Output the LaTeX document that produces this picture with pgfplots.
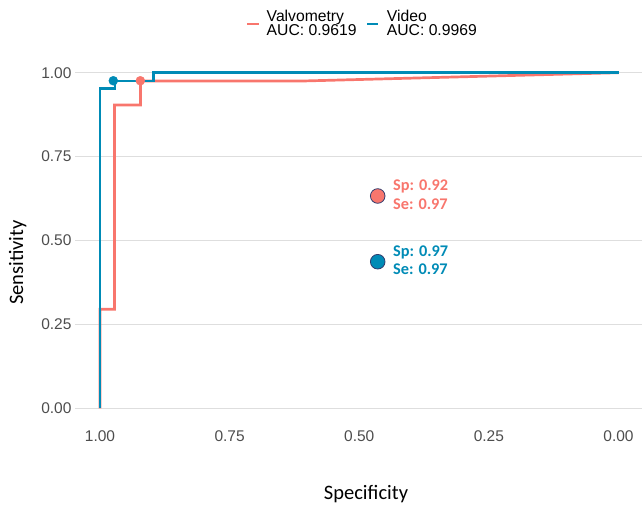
\documentclass[border=0pt]{standalone}
\usepackage{fontspec}
\setmainfont{Liberation Sans}
\newfontfamily\carlito{Carlito}
\usepackage{pgfplots}
\pgfplotsset{compat=1.18}
\definecolor{salmon}{RGB}{248,118,109}
\definecolor{vblue}{RGB}{0,139,182}
\definecolor{outl}{RGB}{50,60,110}
\definecolor{tickgray}{RGB}{77,77,77}
\definecolor{gridgray}{RGB}{222,222,222}
\begin{document}
\begin{tikzpicture}[x=1pt,y=1pt]
\useasboundingbox (0,0) rectangle (643,507);
\begin{axis}[
  at={(75pt,81.9pt)}, anchor=south west, scale only axis,
  width=567pt, height=369.2pt,
  x dir=reverse, xmin=-0.0453, xmax=1.0482, ymin=-0.05, ymax=1.05,
  axis line style={draw=none}, major tick style={draw=none},
  ymajorgrids, grid style={gridgray, line width=1pt},
  xtick={0,0.25,0.5,0.75,1}, ytick={0,0.25,0.5,0.75,1},
  ticklabel style={font=\fontsize{15.5}{17}\selectfont, text=tickgray},
  xticklabel style={yshift=-2pt},
  /pgf/number format/.cd, fixed, fixed zerofill, precision=2, assume math mode=true,
  /pgfplots/.cd,
  clip=false,
]
\addplot[salmon, line width=2.7pt, mark=none] coordinates {(1,0)(1,0.295)(0.972,0.295)(0.972,0.904)(0.922,0.904)(0.922,0.975)(0.614,0.975)(0,1)};
\addplot[vblue, line width=2.7pt, mark=none] coordinates {(1,0)(1,0.9535)(0.971,0.9535)(0.971,0.975)(0.897,0.975)(0.897,1)(0,1)};
\addplot[only marks, mark=*, mark size=4.5pt, mark options={draw=salmon, fill=salmon}] coordinates {(0.9222,0.976)};
\addplot[only marks, mark=*, mark size=4.5pt, mark options={draw=vblue, fill=vblue}] coordinates {(0.9743,0.976)};
\addplot[only marks, mark=*, mark size=7.3pt, mark options={draw=outl, fill=salmon, line width=0.8pt}] coordinates {(0.4644,0.6326)};
\addplot[only marks, mark=*, mark size=7.3pt, mark options={draw=outl, fill=vblue, line width=0.8pt}] coordinates {(0.4644,0.4368)};
\end{axis}
% legend
\draw[salmon, line width=2.7pt] (247,483) -- (259,483);
\draw[vblue, line width=2.7pt] (367,483) -- (378,483);
\begin{scope}[every node/.style={inner sep=0pt, anchor=base west, font=\fontsize{15.7}{17}\selectfont}]
\node at (266.5,485.3) {Valvometry};
\node at (266.5,471) {AUC: 0.9619};
\node at (386.7,485.3) {Video};
\node at (386.7,471) {AUC: 0.9969};
\end{scope}
% annotations
\begin{scope}[every node/.style={inner sep=0pt, anchor=base west, font=\carlito\bfseries\fontsize{16.3}{18}\selectfont}]
\node[text=salmon] at (393,316.3) {Sp: 0.92};
\node[text=salmon] at (393,297.7) {Se: 0.97};
\node[text=vblue] at (393,251) {Sp: 0.97};
\node[text=vblue] at (393,233) {Se: 0.97};
\end{scope}
% axis titles
\node[inner sep=0pt, anchor=base, font=\carlito\fontsize{20.5}{24}\selectfont] at (366,7.7) {Specificity};
\node[inner sep=0pt, anchor=base, rotate=90, font=\carlito\fontsize{20.5}{24}\selectfont] at (23,244.5) {Sensitivity};
\end{tikzpicture}
\end{document}
